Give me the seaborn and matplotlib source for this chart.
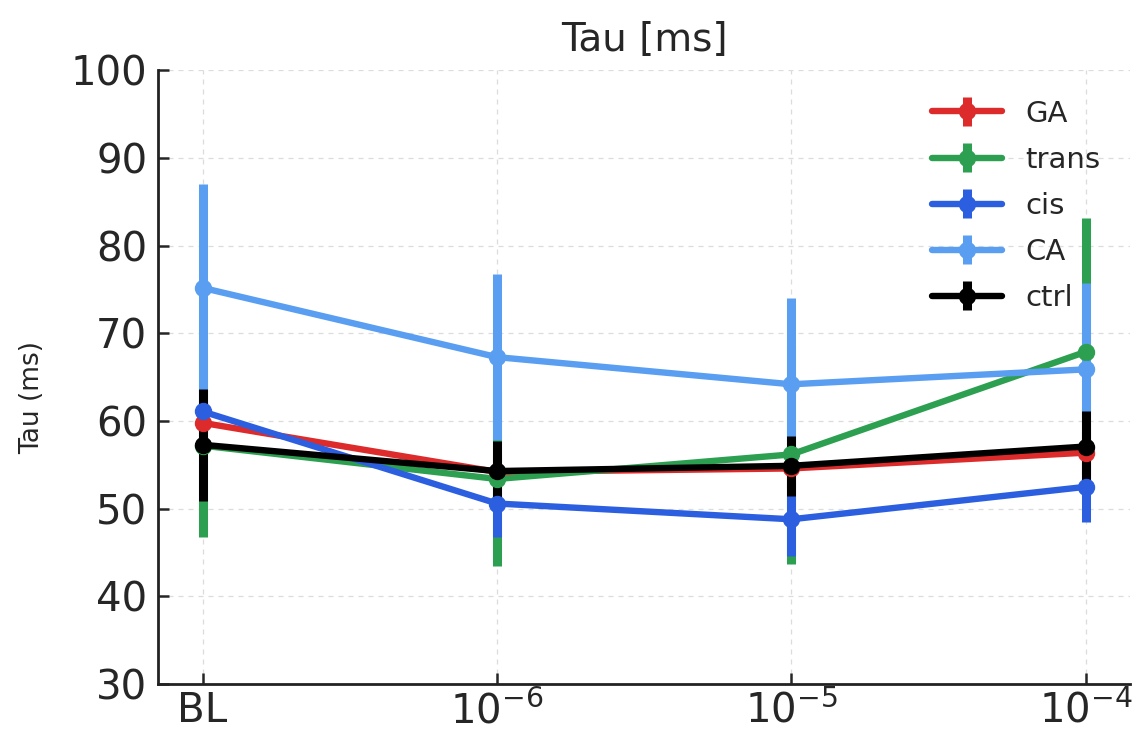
import matplotlib
matplotlib.use("Agg")
import matplotlib.pyplot as plt
import seaborn as sns

# x positions / labels
conditions = ["BL", "1e-6", "1e-5", "1e-4"]
tick_labels = ["BL", r"$10^{-6}$", r"$10^{-5}$", r"$10^{-4}$"]

# mean tau (ms) per group
ga_mean = [59.8, 54.2, 54.6, 56.4]
trans_mean = [57.2, 53.4, 56.2, 67.9]
cis_mean = [61.1, 50.6, 48.8, 52.5]
ca_mean = [75.2, 67.3, 64.2, 65.9]
ctrl_mean = [57.3, 54.3, 54.9, 57.1]

# error (ms)
ga_err = [2.5, 2.0, 2.2, 2.5]
trans_err = [10.4, 9.9, 12.5, 15.3]
cis_err = [2.5, 3.8, 4.2, 4.0]
ca_err = [11.8, 9.5, 9.8, 9.8]
ctrl_err = [6.4, 3.4, 3.4, 4.0]

groups = ["GA", "trans", "cis", "CA", "ctrl"]
colors = ["#dd2a2a", "#2ca050", "#2c5fe0", "#5a9ef2", "#000000"]

sns.set_theme(style="ticks")
plt.rcParams.update({"font.family": ["DejaVu Sans"], "text.color": "#262626",
                     "axes.labelcolor": "#262626", "xtick.color": "#262626",
                     "ytick.color": "#262626"})

fig = plt.figure(figsize=(11.4, 7.34), dpi=100)
ax = fig.add_axes([0.139, 0.068, 0.852, 0.836])

means = [ga_mean, trans_mean, cis_mean, ca_mean, ctrl_mean]
errs = [ga_err, trans_err, cis_err, ca_err, ctrl_err]
x = list(range(len(conditions)))
for name, m, e, c in zip(groups, means, errs, colors):
    ax.errorbar(x, m, yerr=e, color=c, label=name, lw=4.6, elinewidth=6.5,
                marker="o", markersize=11.5, capsize=0)

ax.set_xlim(-0.15, 3.15)
ax.set_ylim(30, 100)
ax.set_xticks(x)
ax.set_xticklabels(tick_labels)
ax.set_yticks(range(30, 101, 10))
ax.tick_params(axis="both", direction="in", labelsize=29, length=8, width=1.8, pad=8)
ax.tick_params(axis="x", pad=5)
ax.grid(True, linestyle=(0, (4, 4)), color="#dcdcdc", linewidth=0.9)
for s in ["left", "bottom"]:
    ax.spines[s].set_linewidth(2)
    ax.spines[s].set_color("#222222")
sns.despine(ax=ax)

ax.set_title("Tau [ms]", fontsize=28, pad=14)
ax.set_ylabel("Tau (ms)", fontsize=19)
ax.yaxis.set_label_coords(-0.117, 0.467)

ax.legend(loc="upper right", fontsize=21, frameon=False, handlelength=2.4,
          borderaxespad=0.6, labelspacing=0.62, handletextpad=0.8)

fig.savefig("out.png", dpi=100)
